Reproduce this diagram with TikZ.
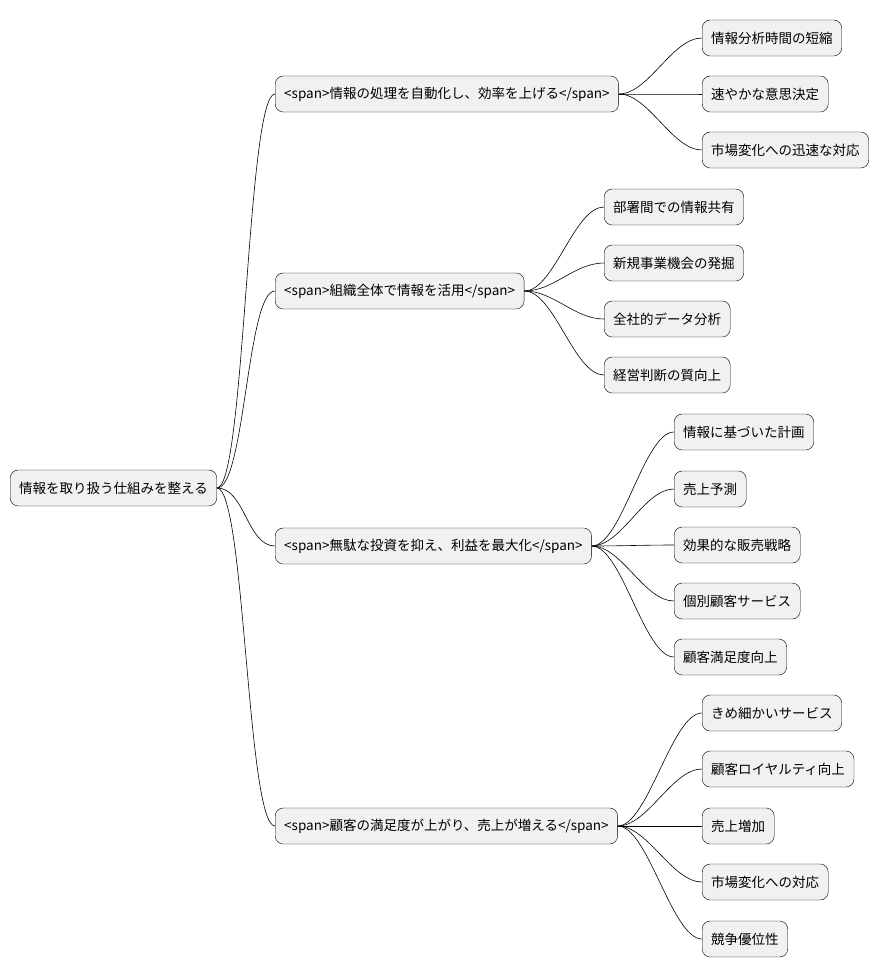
\documentclass[tikz,border=0pt]{standalone}
\usepackage{fontspec}
\setmainfont{Noto Sans CJK JP}
\usetikzlibrary{positioning}
\definecolor{boxfill}{HTML}{F1F1F1}
\tikzset{
	topic/.style={draw, rounded corners=8pt, fill=boxfill, anchor=west, minimum height=36pt, inner xsep=9pt, font=\fontsize{13.5}{16}\selectfont},
	link/.style={draw, line width=0.6pt},
}
\begin{document}
\begin{tikzpicture}[x=1pt, y=-1pt]
  \useasboundingbox (0,0) rectangle (887,978);

  \node[topic] (root) at (10,488) {情報を取り扱う仕組みを整える};

  \node[topic] (a) at (275,94) {<span>情報の処理を自動化し、効率を上げる</span>};
  \node[topic] (b) at (275,291) {<span>組織全体で情報を活用</span>};
  \node[topic] (c) at (275,546) {<span>無駄な投資を抑え、利益を最大化</span>};
  \node[topic] (d) at (275,826) {<span>顧客の満足度が上がり、売上が増える</span>};

  \foreach \p in {a,b,c,d}
    \draw[link] (root.east) .. controls +(28,0) and +(-28,0) .. (\p.west);

  % leaves of a
  \foreach \t/\y [count=\i] in {情報分析時間の短縮/38, 速やかな意思決定/94, 市場変化への迅速な対応/150}{
    \node[topic] (a\i) at (702,\y) {\t};
    \draw[link] (a.east) .. controls +(30,0) and +(-30,0) .. (a\i.west);
  }
  % leaves of b
  \foreach \t/\y [count=\i] in {部署間での情報共有/207, 新規事業機会の発掘/263, 全社的データ分析/319, 経営判断の質向上/375}{
    \node[topic] (b\i) at (604,\y) {\t};
    \draw[link] (b.east) .. controls +(30,0) and +(-30,0) .. (b\i.west);
  }
  % leaves of c
  \foreach \t/\y [count=\i] in {情報に基づいた計画/432, 売上予測/489, 効果的な販売戦略/545, 個別顧客サービス/601, 顧客満足度向上/657}{
    \node[topic] (c\i) at (674,\y) {\t};
    \draw[link] (c.east) .. controls +(30,0) and +(-30,0) .. (c\i.west);
  }
  % leaves of d
  \foreach \t/\y [count=\i] in {きめ細かいサービス/713, 顧客ロイヤルティ向上/769, 売上増加/826, 市場変化への対応/882, 競争優位性/939}{
    \node[topic] (d\i) at (702,\y) {\t};
    \draw[link] (d.east) .. controls +(30,0) and +(-30,0) .. (d\i.west);
  }
\end{tikzpicture}
\end{document}
